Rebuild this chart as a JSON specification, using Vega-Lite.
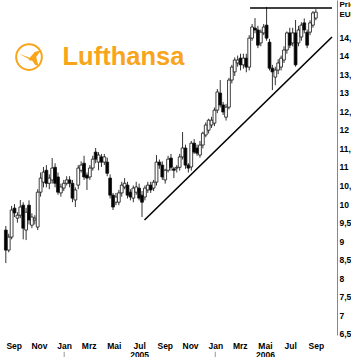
{
 "$schema": "https://vega.github.io/schema/vega-lite/v6.json",
 "width": 337, "height": 335,
 "autosize": {"type": "none"},
 "padding": {"left": 0, "top": 0, "right": 14, "bottom": 22},
 "background": "white",
 "config": {"view": {"stroke": null}, "font": "Liberation Sans", "axis": {"labelOverlap": false, "labelFlush": false}},
 "datasets": {
  "ohlc": [
   {"d":"2004-08-13","o":9.30,"h":9.41,"l":8.41,"c":8.76},
   {"d":"2004-08-20","o":8.76,"h":9.20,"l":8.70,"c":9.11},
   {"d":"2004-08-27","o":9.11,"h":9.95,"l":9.05,"c":9.84},
   {"d":"2004-09-03","o":9.89,"h":10.00,"l":9.65,"c":9.76},
   {"d":"2004-09-10","o":9.62,"h":9.78,"l":9.50,"c":9.70},
   {"d":"2004-09-17","o":9.70,"h":10.11,"l":9.62,"c":9.92},
   {"d":"2004-09-24","o":9.97,"h":10.05,"l":9.05,"c":9.35},
   {"d":"2004-10-01","o":9.30,"h":9.90,"l":9.03,"c":9.78},
   {"d":"2004-10-08","o":9.97,"h":10.10,"l":9.45,"c":9.57},
   {"d":"2004-10-15","o":9.43,"h":9.75,"l":9.35,"c":9.65},
   {"d":"2004-10-22","o":9.57,"h":9.70,"l":9.45,"c":9.62},
   {"d":"2004-10-29","o":9.38,"h":10.40,"l":9.30,"c":10.32},
   {"d":"2004-11-05","o":10.32,"h":10.85,"l":10.20,"c":10.70},
   {"d":"2004-11-12","o":10.59,"h":11.00,"l":10.45,"c":10.86},
   {"d":"2004-11-19","o":10.91,"h":11.05,"l":10.45,"c":10.56},
   {"d":"2004-11-26","o":10.56,"h":10.80,"l":10.40,"c":10.70},
   {"d":"2004-12-03","o":10.65,"h":11.24,"l":10.55,"c":10.97},
   {"d":"2004-12-10","o":10.99,"h":11.10,"l":10.45,"c":10.56},
   {"d":"2004-12-17","o":10.73,"h":10.85,"l":10.25,"c":10.32},
   {"d":"2004-12-24","o":10.30,"h":10.55,"l":10.20,"c":10.46},
   {"d":"2004-12-31","o":10.43,"h":10.65,"l":10.35,"c":10.56},
   {"d":"2005-01-07","o":10.56,"h":10.75,"l":10.50,"c":10.65},
   {"d":"2005-01-14","o":10.65,"h":10.75,"l":10.45,"c":10.56},
   {"d":"2005-01-21","o":10.56,"h":10.65,"l":10.05,"c":10.16},
   {"d":"2005-01-28","o":10.11,"h":10.45,"l":9.92,"c":10.38},
   {"d":"2005-02-04","o":10.51,"h":11.05,"l":10.40,"c":10.97},
   {"d":"2005-02-11","o":10.91,"h":11.15,"l":10.85,"c":11.05},
   {"d":"2005-02-18","o":11.10,"h":11.30,"l":10.65,"c":10.73},
   {"d":"2005-02-25","o":10.78,"h":10.85,"l":10.38,"c":10.70},
   {"d":"2005-03-04","o":10.73,"h":11.05,"l":10.65,"c":10.97},
   {"d":"2005-03-11","o":10.97,"h":11.30,"l":10.90,"c":11.21},
   {"d":"2005-03-18","o":11.40,"h":11.51,"l":11.10,"c":11.21},
   {"d":"2005-03-25","o":11.13,"h":11.40,"l":10.91,"c":11.32},
   {"d":"2005-04-01","o":11.27,"h":11.35,"l":11.00,"c":11.13},
   {"d":"2005-04-08","o":11.13,"h":11.35,"l":11.05,"c":11.27},
   {"d":"2005-04-15","o":11.13,"h":11.25,"l":10.75,"c":10.83},
   {"d":"2005-04-22","o":10.70,"h":10.80,"l":10.15,"c":10.24},
   {"d":"2005-04-29","o":10.24,"h":10.30,"l":9.84,"c":9.92},
   {"d":"2005-05-06","o":10.05,"h":10.30,"l":9.97,"c":10.19},
   {"d":"2005-05-13","o":10.05,"h":10.38,"l":9.97,"c":10.30},
   {"d":"2005-05-20","o":10.30,"h":10.60,"l":10.20,"c":10.51},
   {"d":"2005-05-27","o":10.46,"h":10.70,"l":10.40,"c":10.56},
   {"d":"2005-06-03","o":10.51,"h":10.60,"l":10.15,"c":10.24},
   {"d":"2005-06-10","o":10.32,"h":10.40,"l":10.10,"c":10.19},
   {"d":"2005-06-17","o":10.16,"h":10.50,"l":10.05,"c":10.43},
   {"d":"2005-06-24","o":10.32,"h":10.60,"l":10.25,"c":10.46},
   {"d":"2005-07-01","o":10.43,"h":10.55,"l":10.10,"c":10.16},
   {"d":"2005-07-08","o":10.24,"h":10.35,"l":9.65,"c":10.05},
   {"d":"2005-07-15","o":10.19,"h":10.50,"l":10.10,"c":10.43},
   {"d":"2005-07-22","o":10.38,"h":10.60,"l":10.30,"c":10.51},
   {"d":"2005-07-29","o":10.51,"h":10.60,"l":10.30,"c":10.38},
   {"d":"2005-08-05","o":10.43,"h":10.65,"l":10.35,"c":10.59},
   {"d":"2005-08-12","o":10.59,"h":11.32,"l":10.50,"c":11.13},
   {"d":"2005-08-19","o":11.13,"h":11.20,"l":10.95,"c":11.05},
   {"d":"2005-08-26","o":11.05,"h":11.15,"l":10.65,"c":10.73},
   {"d":"2005-09-02","o":10.65,"h":10.95,"l":10.55,"c":10.91},
   {"d":"2005-09-09","o":10.91,"h":11.30,"l":10.85,"c":11.21},
   {"d":"2005-09-16","o":11.24,"h":11.35,"l":10.90,"c":10.99},
   {"d":"2005-09-23","o":10.95,"h":11.00,"l":10.70,"c":10.91},
   {"d":"2005-09-30","o":10.97,"h":11.05,"l":10.85,"c":10.99},
   {"d":"2005-10-07","o":10.99,"h":11.35,"l":10.90,"c":11.27},
   {"d":"2005-10-14","o":11.27,"h":11.94,"l":11.20,"c":11.51},
   {"d":"2005-10-21","o":11.51,"h":11.60,"l":10.95,"c":11.05},
   {"d":"2005-10-28","o":11.05,"h":11.10,"l":10.85,"c":10.97},
   {"d":"2005-11-04","o":11.00,"h":11.70,"l":10.90,"c":11.64},
   {"d":"2005-11-11","o":11.64,"h":11.75,"l":11.35,"c":11.40},
   {"d":"2005-11-18","o":11.51,"h":11.60,"l":11.30,"c":11.37},
   {"d":"2005-11-25","o":11.32,"h":11.70,"l":11.25,"c":11.59},
   {"d":"2005-12-02","o":11.59,"h":11.95,"l":11.50,"c":11.91},
   {"d":"2005-12-09","o":11.86,"h":12.20,"l":11.80,"c":12.13},
   {"d":"2005-12-16","o":11.99,"h":12.30,"l":11.90,"c":12.26},
   {"d":"2005-12-23","o":12.13,"h":12.35,"l":12.05,"c":12.26},
   {"d":"2005-12-30","o":12.18,"h":12.60,"l":12.10,"c":12.53},
   {"d":"2006-01-06","o":12.53,"h":13.10,"l":12.45,"c":13.02},
   {"d":"2006-01-13","o":12.99,"h":13.34,"l":12.60,"c":12.67},
   {"d":"2006-01-20","o":12.67,"h":12.75,"l":12.40,"c":12.48},
   {"d":"2006-01-27","o":12.34,"h":12.70,"l":12.25,"c":12.61},
   {"d":"2006-02-03","o":12.61,"h":13.40,"l":12.55,"c":13.34},
   {"d":"2006-02-10","o":13.34,"h":13.75,"l":13.25,"c":13.69},
   {"d":"2006-02-17","o":13.56,"h":13.95,"l":13.45,"c":13.88},
   {"d":"2006-02-24","o":13.80,"h":14.00,"l":13.70,"c":13.88},
   {"d":"2006-03-03","o":13.93,"h":14.05,"l":13.60,"c":13.75},
   {"d":"2006-03-10","o":13.75,"h":14.05,"l":13.65,"c":13.93},
   {"d":"2006-03-17","o":13.93,"h":14.05,"l":13.55,"c":13.69},
   {"d":"2006-03-24","o":13.69,"h":14.55,"l":13.60,"c":14.47},
   {"d":"2006-03-31","o":14.47,"h":14.85,"l":14.40,"c":14.77},
   {"d":"2006-04-07","o":14.74,"h":15.01,"l":14.60,"c":14.69},
   {"d":"2006-04-14","o":14.69,"h":14.80,"l":14.20,"c":14.28},
   {"d":"2006-04-21","o":14.34,"h":14.70,"l":14.25,"c":14.63},
   {"d":"2006-04-28","o":14.61,"h":14.85,"l":14.55,"c":14.77},
   {"d":"2006-05-05","o":14.82,"h":15.31,"l":14.40,"c":14.47},
   {"d":"2006-05-12","o":14.36,"h":14.45,"l":13.60,"c":13.66},
   {"d":"2006-05-19","o":13.66,"h":13.75,"l":13.07,"c":13.56},
   {"d":"2006-05-26","o":13.42,"h":13.70,"l":13.20,"c":13.61},
   {"d":"2006-06-02","o":13.61,"h":13.90,"l":13.50,"c":13.80},
   {"d":"2006-06-09","o":13.69,"h":14.00,"l":13.60,"c":13.93},
   {"d":"2006-06-16","o":13.88,"h":14.25,"l":13.80,"c":14.15},
   {"d":"2006-06-23","o":14.15,"h":14.65,"l":14.05,"c":14.61},
   {"d":"2006-06-30","o":14.61,"h":14.75,"l":14.20,"c":14.28},
   {"d":"2006-07-07","o":14.34,"h":14.75,"l":14.25,"c":14.61},
   {"d":"2006-07-14","o":14.61,"h":14.96,"l":13.70,"c":13.75},
   {"d":"2006-07-21","o":14.34,"h":14.80,"l":14.25,"c":14.69},
   {"d":"2006-07-28","o":14.50,"h":14.90,"l":14.40,"c":14.82},
   {"d":"2006-08-04","o":14.88,"h":15.00,"l":14.60,"c":14.69},
   {"d":"2006-08-11","o":14.63,"h":14.70,"l":14.20,"c":14.28},
   {"d":"2006-08-18","o":14.63,"h":14.95,"l":14.55,"c":14.88},
   {"d":"2006-08-25","o":14.82,"h":15.20,"l":14.75,"c":15.15},
   {"d":"2006-09-01","o":15.01,"h":15.25,"l":14.95,"c":15.17}
  ],
  "trend": [
   {"x1":"2005-07-14","y1":9.57,"x2":"2006-10-10","y2":14.5},
   {"x1":"2006-03-26","y1":15.28,"x2":"2006-10-10","y2":15.28}
  ],
  "sep": [
   {"d":"2005-01-01","lo":5.87,"hi":6.02},
   {"d":"2006-01-01","lo":5.87,"hi":6.02}
  ],
  "logo": [{"d":"2004-10-08","v":13.96}],
  "brand": [{"d":"2004-12-28","v":13.746,"t":"Lufthansa"}]
 },
 "layer": [
  {
   "data": {"name": "ohlc"},
   "mark": {"type": "rule", "color": "#333", "strokeWidth": 1},
   "encoding": {
    "x": {"field": "d", "type": "temporal",
     "scale": {"type": "utc", "nice": false, "domain": [{"year":2004,"month":8,"date":11,"utc":true},{"year":2006,"month":10,"date":10,"utc":true}]},
     "axis": {
      "values": [
       {"year":2004,"month":9,"date":1,"utc":true},
       {"year":2004,"month":11,"date":1,"utc":true},
       {"year":2005,"month":1,"date":1,"utc":true},
       {"year":2005,"month":3,"date":1,"utc":true},
       {"year":2005,"month":5,"date":1,"utc":true},
       {"year":2005,"month":7,"date":1,"utc":true},
       {"year":2005,"month":9,"date":1,"utc":true},
       {"year":2005,"month":11,"date":1,"utc":true},
       {"year":2006,"month":1,"date":1,"utc":true},
       {"year":2006,"month":3,"date":1,"utc":true},
       {"year":2006,"month":5,"date":1,"utc":true},
       {"year":2006,"month":7,"date":1,"utc":true},
       {"year":2006,"month":9,"date":1,"utc":true}
      ],
      "tickCount": 40,
      "labelExpr": "utcyear(datum.value)==2005 && utcmonth(datum.value)==6 ? ['Jul','2005'] : (utcyear(datum.value)==2006 && utcmonth(datum.value)==4 ? ['Mai','2006'] : ['Jan','Feb','Mrz','Apr','Mai','Jun','Jul','Aug','Sep','Okt','Nov','Dez'][utcmonth(datum.value)])",
      "domain": false, "ticks": false, "grid": false, "title": null,
      "labelFont": "Liberation Sans", "labelFontWeight": "bold", "labelFontSize": 8.5,
      "labelColor": "black", "labelPadding": 6, "labelLineHeight": 9.5,
      "labelOverlap": false, "labelSeparation": 0, "labelFlush": false, "labelBound": false
     }
    },
    "y": {"field": "l", "type": "quantitative",
     "scale": {"domain": [6.473, 15.497], "nice": false, "zero": false},
     "axis": {
      "orient": "right",
      "values": [6.5,7,7.5,8,8.5,9,9.5,10,10.5,11,11.5,12,12.5,13,13.5,14,14.5],
      "tickCount": 40,
      "labelExpr": "replace(format(datum.value, '.1~f'), '.', ',')",
      "domain": true, "domainColor": "#888", "domainWidth": 1,
      "ticks": false, "grid": false,
      "labelAlign": "left", "labelBaseline": "middle", "labelPadding": 2,
      "labelFont": "Liberation Sans", "labelFontWeight": "bold", "labelFontSize": 8.5,
      "labelColor": "black", "labelOverlap": false, "labelSeparation": 0, "labelFlush": false, "labelBound": false,
      "title": ["Price", "EUR"], "titleAngle": 0, "titleAlign": "left", "titleBaseline": "top",
      "titleX": 2, "titleY": 0, "titleFont": "Liberation Sans", "titleFontWeight": "bold",
      "titleFontSize": 8, "titleColor": "black", "titleLineHeight": 10
     }
    },
    "y2": {"field": "h"}
   }
  },
  {
   "data": {"name": "ohlc"},
   "mark": {"type": "bar", "width": 2.8, "stroke": "#111", "strokeWidth": 0.8},
   "encoding": {
    "x": {"field": "d", "type": "temporal"},
    "y": {"field": "o", "type": "quantitative"},
    "y2": {"field": "c"},
    "fill": {"condition": {"test": "datum.c < datum.o", "value": "black"}, "value": "white"}
   }
  },
  {
   "data": {"name": "trend"},
   "mark": {"type": "rule", "color": "black", "strokeWidth": 1.6},
   "encoding": {
    "x": {"field": "x1", "type": "temporal"},
    "x2": {"field": "x2"},
    "y": {"field": "y1", "type": "quantitative"},
    "y2": {"field": "y2"}
   }
  },
  {
   "data": {"name": "sep"},
   "mark": {"type": "rule", "color": "#999", "strokeWidth": 1},
   "encoding": {
    "x": {"field": "d", "type": "temporal"},
    "y": {"field": "lo", "type": "quantitative"},
    "y2": {"field": "hi"}
   }
  },
  {
   "data": {"name": "logo"},
   "mark": {"type": "point", "shape": "circle", "size": 660, "filled": false, "stroke": "#f9a51b", "strokeWidth": 2, "opacity": 1},
   "encoding": {
    "x": {"field": "d", "type": "temporal"},
    "y": {"field": "v", "type": "quantitative"}
   }
  },
  {
   "data": {"name": "logo"},
   "mark": {"type": "point", "shape": "M-0.72,-0.24 L0.05,0.04 L0.38,-0.34 L0.8,-0.45 L0.48,0.0 L0.62,0.55 L0.42,0.55 L0.22,0.24 L-0.02,0.22 L0.0,0.13 Z", "size": 900, "filled": true, "fill": "#f9a51b", "strokeWidth": 0, "opacity": 1},
   "encoding": {
    "x": {"field": "d", "type": "temporal"},
    "y": {"field": "v", "type": "quantitative"}
   }
  },
  {
   "data": {"name": "brand"},
   "mark": {"type": "text", "align": "left", "baseline": "alphabetic", "font": "Liberation Sans", "fontWeight": "bold", "fontSize": 25.5, "color": "#f9a51b"},
   "encoding": {
    "x": {"field": "d", "type": "temporal"},
    "y": {"field": "v", "type": "quantitative"},
    "text": {"field": "t"}
   }
  }
 ]
}
